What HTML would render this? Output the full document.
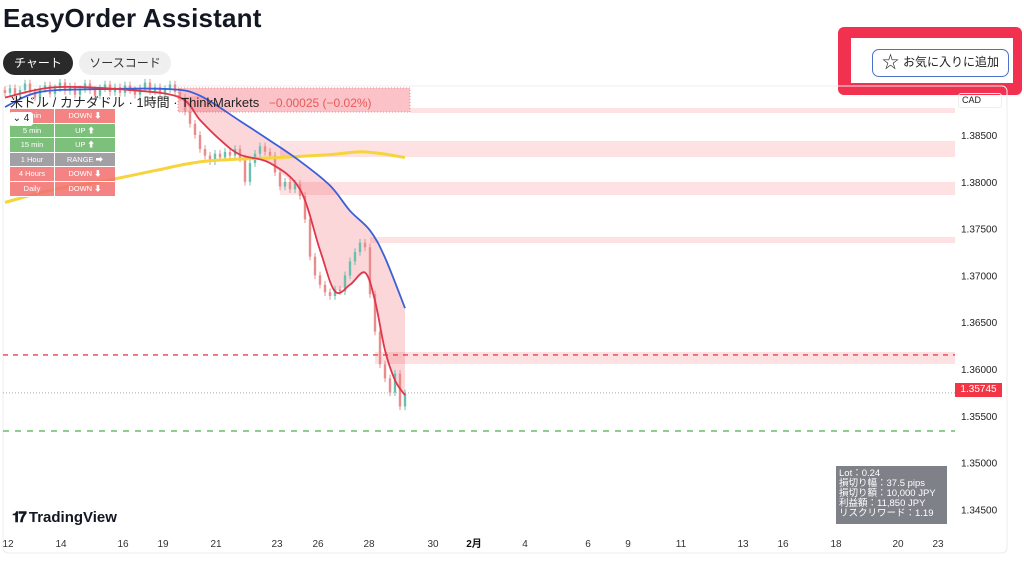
<!DOCTYPE html>
<html><head><meta charset="utf-8">
<style>
*{margin:0;padding:0;box-sizing:border-box}
body{width:1024px;height:562px;overflow:hidden;background:#fff;font-family:"Liberation Sans","Noto Sans CJK JP",sans-serif;position:relative}
.abs{position:absolute}
</style></head><body>
<div class="abs" style="left:3px;top:3px;font-size:26px;font-weight:bold;color:#131722;letter-spacing:0.2px">EasyOrder Assistant</div>
<div class="abs" style="left:3px;top:51px;width:70px;height:24px;border-radius:12px;background:#2a2a2a;color:#fff;font-size:12px;line-height:24px;text-align:center">チャート</div>
<div class="abs" style="left:79px;top:51px;width:92px;height:24px;border-radius:12px;background:#efefef;color:#333;font-size:12px;line-height:24px;text-align:center">ソースコード</div>
<div class="abs" style="left:838px;top:27px;width:184px;height:68px;border-radius:6px;background:#f2304f"></div>
<div class="abs" style="left:851px;top:38px;width:162px;height:45px;background:#fff"></div>
<div class="abs" style="left:872px;top:49px;width:137px;height:28px;border:1.5px solid #4a72c8;border-radius:7px;font-size:12px;line-height:25px;color:#222;padding-left:30px">お気に入りに追加<span class="abs" style="left:9px;top:0;font-size:17px;line-height:25px">☆</span></div>

<svg class="abs" style="left:0;top:0" width="1024" height="562">
<rect x="3" y="86" width="1004" height="467" rx="5" fill="none" stroke="#ececec"/>
<g id="zones"></g><g id="fill"></g><g id="candles"></g><g id="lines"></g><g id="axis"></g>
</svg>

<div class="abs" style="left:10px;top:92px;font-size:13px;color:#222;white-space:nowrap">米ドル / カナダドル · 1時間 · ThinkMarkets <span style="color:#e85a5a;margin-left:6px;font-size:12px">−0.00025 (−0.02%)</span></div>
<div class="abs" style="left:10px;top:109px;font-size:7.5px;color:#fff">
<div id="tbl"></div></div>
<div class="abs" style="left:9px;top:112px;width:24px;height:14px;background:#fff;border-radius:3px;font-size:10px;line-height:14px;text-align:center;color:#222">⌄ 4</div>
<div class="abs" style="left:958px;top:93px;width:44px;height:15px;border:1px solid #eee;border-radius:3px;font-size:9px;line-height:13px;padding-left:3px;color:#222">CAD</div>
<div class="abs" style="left:955px;top:383px;width:47px;height:14px;background:#f23645;color:#fff;font-size:10px;line-height:14px;text-align:center">1.35745</div>
<div class="abs" style="left:836px;top:466px;width:111px;height:58px;background:#7f8189;color:#fff;font-size:9.5px;line-height:10px;padding:3px 0 0 3px;white-space:nowrap">Lot：0.24<br>損切り幅：37.5 pips<br>損切り額：10,000 JPY<br>利益額：11,850 JPY<br>リスクリワード：1.19</div>
<div class="abs" style="left:12px;top:509px;font-size:15px;font-weight:bold;color:#131722"><span style="letter-spacing:-2px">𝟏𝟕</span> TradingView</div>

<script>
const ticksP=[1.385,1.38,1.375,1.37,1.365,1.36,1.355,1.35,1.345];
const timeLabels=["12","14","16","19","21","23","26","28","30","2月","4","6","9","11","13","16","18","20","23"];
const timeX=[8,61,123,163,216,277,318,369,433,474,525,588,628,681,743,783,836,898,938];
const closes=[1.3895,1.3900,1.3892,1.3898,1.3905,1.3896,1.3890,1.3899,1.3903,1.3894,1.3900,1.3906,1.3897,1.3902,1.3893,1.3899,1.3905,1.3898,1.3892,1.3900,1.3904,1.3896,1.3901,1.3895,1.3903,1.3898,1.3893,1.3900,1.3906,1.3897,1.3901,1.3895,1.3899,1.3904,1.3896,
1.3890,1.3875,1.3862,1.3850,1.3835,1.3828,1.3822,1.3830,1.3826,1.3832,1.3828,1.3835,1.3825,1.3800,1.3820,1.3830,1.3838,1.3832,1.3828,1.3810,1.3795,1.3800,1.3792,1.3798,1.3785,1.3760,1.3720,1.3700,1.3690,1.3682,1.3678,1.3685,1.3683,1.3700,1.3715,1.3725,1.3735,1.3730,1.3680,1.3640,1.3605,1.3590,1.3575,1.3595,1.3560,1.3574];
const maYellow=[1.3778,1.3792,1.3801,1.3812,1.3822,1.3826,1.3829,1.3832,1.3826];
const maYellowIdx=[0,10,20,30,40,55,65,72,80];
const maBlue=[1.3880,1.3896,1.3899,1.3899,1.3892,1.3865,1.3844,1.3822,1.3796,1.3769,1.3748,1.3719,1.3665];
const maBlueIdx=[0,7,19,33,39,47,53,59,65,69,73,76,80];
const maRed=[1.3890,1.3901,1.3898,1.3890,1.3866,1.3845,1.3829,1.3820,1.3792,1.3727,1.3683,1.3690,1.3703,1.3673,1.3620,1.3588,1.3572];
const maRedIdx=[0,10,25,35,39,43,47,53,59,63,66,69,72,74,76,78,80];
const zoneTop=[1.38788,1.38436,1.37998,1.37410,1.36182];
const zoneBot=[1.38735,1.38265,1.37859,1.37346,1.36053];
const zoneStart=[81,55,55,73,74];
const entry=1.36150, stop=1.35338, last=1.35745;
const rows=[["1 min","DOWN ⬇","r"],["5 min","UP ⬆","g"],["15 min","UP ⬆","g"],["1 Hour","RANGE ➡","n"],["4 Hours","DOWN ⬇","r"],["Daily","DOWN ⬇","r"]];
const NS="http://www.w3.org/2000/svg";
const y=p=>135+(1.385-p)/0.005*46.8;
const x=i=>5+i*5;
function mk(t,a,par){const e=document.createElementNS(NS,t);for(const k in a)e.setAttribute(k,a[k]);document.getElementById(par).appendChild(e);return e;}
zoneTop.forEach((t,k)=>{const e=mk('rect',{x:x(zoneStart[k]),y:y(t),width:955-x(zoneStart[k]),height:y(zoneBot[k])-y(t),fill:'rgba(242,54,69,0.15)'},'zones');

});
let lb=mk('rect',{x:178,y:88,width:232,height:24,fill:'rgba(242,54,69,0.3)',stroke:'#e88',"stroke-dasharray":'1 2'},'zones');


[[entry,'#e8404f','5 5','entry-line'],[stop,'#4caf50','6 6','stop-line'],[last,'#aaa','1 2','last-price-line']].forEach(a=>{const e=mk('line',{x1:3,x2:955,y1:y(a[0]),y2:y(a[0]),stroke:a[1],'stroke-dasharray':a[2],'stroke-width':a[0]==last?1:1.3},'zones');

});
function pts(vals,idx){return vals.map((v,k)=>[x(idx[k]),y(v)]);}
function smooth(P){let d='M'+P[0][0]+','+P[0][1];for(let k=0;k<P.length-1;k++){const p0=P[k-1]||P[k],p1=P[k],p2=P[k+1],p3=P[k+2]||p2;
const c1=[p1[0]+(p2[0]-p0[0])/6,p1[1]+(p2[1]-p0[1])/6],c2=[p2[0]-(p3[0]-p1[0])/6,p2[1]-(p3[1]-p1[1])/6];
d+=' C'+c1[0]+','+c1[1]+' '+c2[0]+','+c2[1]+' '+p2[0]+','+p2[1];}return d;}
const bP=pts(maBlue,maBlueIdx).filter(p=>p[0]>=178),rP=pts(maRed,maRedIdx).filter(p=>p[0]>=178);
let fd='M'+bP[0][0]+','+bP[0][1];bP.forEach(p=>fd+=' L'+p[0]+','+p[1]);for(let k=rP.length-1;k>=0;k--)fd+=' L'+rP[k][0]+','+rP[k][1];fd+='Z';
let fe=mk('path',{d:fd,fill:'rgba(242,54,69,0.2)'},'fill');


closes.forEach((c,i)=>{const o=i?closes[i-1]:c+0.0003;const up=c>=o;const col=up?'#6cbfae':'#e88c8c';
const hi=Math.max(o,c)+0.0004,lo=Math.min(o,c)-0.0004;
const w=mk('line',{x1:x(i),x2:x(i),y1:y(hi),y2:y(lo),stroke:col},'candles');


const b=mk('rect',{x:x(i)-1.2,y:y(Math.max(o,c)),width:2.4,height:Math.max(1,Math.abs(y(o)-y(c))),fill:col},'candles');

});
[[maYellow,maYellowIdx,'#f7d43c',3,'ma-yellow'],[maBlue,maBlueIdx,'#3a5fd8',1.8,'ma-blue'],[maRed,maRedIdx,'#e0364a',1.8,'ma-red']].forEach(a=>{
const e=mk('path',{d:smooth(pts(a[0],a[1])),fill:'none',stroke:a[2],'stroke-width':a[3]},'lines');

});
ticksP.forEach(p=>{const t=mk('text',{x:961,y:y(p)+4,'font-size':10,fill:'#222'},'axis');t.textContent=p.toFixed(5);

});
timeLabels.forEach((l,k)=>{const t=mk('text',{x:timeX[k],y:547,'font-size':10,fill:l=='2月'?'#111':'#333','font-weight':l=='2月'?'bold':'normal','text-anchor':'middle'},'axis');t.textContent=l;

});
const tb=document.getElementById('tbl');const C={r:'rgba(242,110,110,0.85)',g:'rgba(110,185,110,0.9)',n:'rgba(150,150,155,0.9)'};
rows.forEach(r=>{const d=document.createElement('div');d.style.cssText='display:flex;height:14.6px;line-height:14px;border-bottom:1px solid #fff';


d.innerHTML='<div style="width:45px;text-align:center;background:'+C[r[2]]+';border-right:1px solid #fff">'+r[0]+'</div><div style="width:60px;text-align:center;background:'+C[r[2]]+'">'+r[1]+'</div>';tb.appendChild(d);});
</script>
</body></html>
